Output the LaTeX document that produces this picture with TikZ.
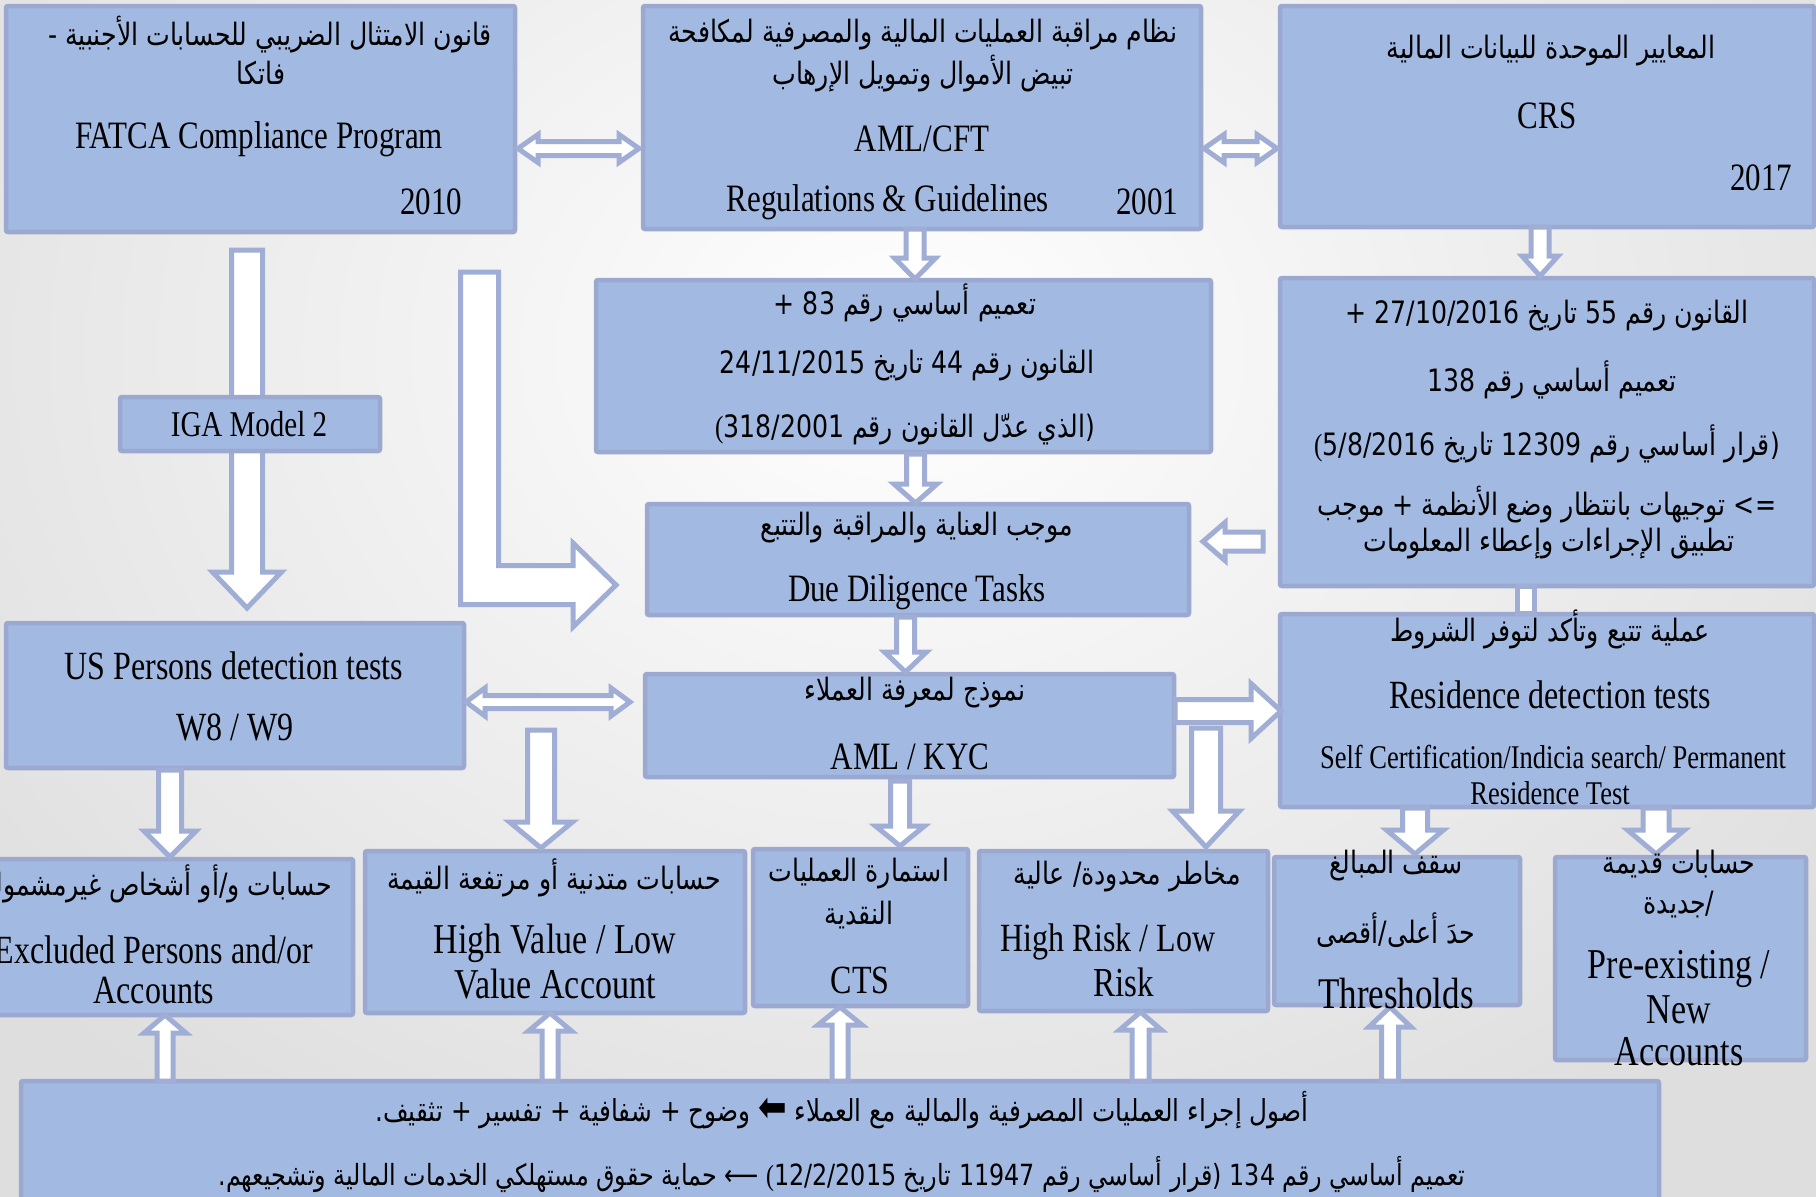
\documentclass[tikz,border=0pt]{standalone}
\usepackage{fontspec}
\usepackage{graphicx}
\setmainfont{Liberation Serif}
\newfontfamily\arabicfont[Script=Arabic]{DejaVu Sans}
\TeXXeTstate=1
\usetikzlibrary{calc,fit}
\definecolor{boxfill}{RGB}{162,185,226}
\definecolor{boxline}{RGB}{155,169,209}
\definecolor{arrline}{RGB}{160,174,213}
\newcommand{\EN}[2]{\scalebox{1}[1.25]{\fontsize{#1}{#1}\selectfont #2}}
\newcommand{\AR}[2]{\scalebox{0.9}[1.1]{\fontsize{#1}{#1}\selectfont\arabicfont\beginR #2\endR}}
\newcommand{\LP}{{\rmfamily(}}
\newcommand{\ArrDown}[5]{\draw[arr] let \p1=(#1), \p2=(#2) in (\x1-#3pt,\y1) -- (\x1-#3pt,\y2+#5pt) -- (\x1-#4pt,\y2+#5pt) -- (\x1,\y2) -- (\x1+#4pt,\y2+#5pt) -- (\x1+#3pt,\y2+#5pt) -- (\x1+#3pt,\y1) -- cycle;}
\newcommand{\ArrUp}[5]{\draw[arr] let \p1=(#1), \p2=(#2) in (\x1-#3pt,\y1) -- (\x1-#3pt,\y2-#5pt) -- (\x1-#4pt,\y2-#5pt) -- (\x1,\y2) -- (\x1+#4pt,\y2-#5pt) -- (\x1+#3pt,\y2-#5pt) -- (\x1+#3pt,\y1) -- cycle;}
\newcommand{\ArrRight}[5]{\draw[arr] let \p1=(#1), \p2=(#2) in (\x1,\y1-#3pt) -- (\x2-#5pt,\y1-#3pt) -- (\x2-#5pt,\y1-#4pt) -- (\x2,\y1) -- (\x2-#5pt,\y1+#4pt) -- (\x2-#5pt,\y1+#3pt) -- (\x1,\y1+#3pt) -- cycle;}
\newcommand{\ArrLeft}[5]{\draw[arr] let \p1=(#1), \p2=(#2) in (\x1,\y1-#3pt) -- (\x2+#5pt,\y1-#3pt) -- (\x2+#5pt,\y1-#4pt) -- (\x2,\y1) -- (\x2+#5pt,\y1+#4pt) -- (\x2+#5pt,\y1+#3pt) -- (\x1,\y1+#3pt) -- cycle;}
\newcommand{\ArrBoth}[5]{\draw[arr] let \p1=(#1), \p2=(#2) in (\x1,\y1) -- (\x1+#5pt,\y1+#4pt) -- (\x1+#5pt,\y1+#3pt) -- (\x2-#5pt,\y1+#3pt) -- (\x2-#5pt,\y1+#4pt) -- (\x2,\y1) -- (\x2-#5pt,\y1-#4pt) -- (\x2-#5pt,\y1-#3pt) -- (\x1+#5pt,\y1-#3pt) -- (\x1+#5pt,\y1-#4pt) -- cycle;}
\begin{document}
\begin{tikzpicture}[x=1pt,y=-1pt,
  box/.style={draw=boxline, fill=boxfill, line width=4.5pt, rounded corners=2pt, inner sep=0pt},
  arr/.style={draw=arrline, fill=white, line width=5pt, line join=miter},
  txt/.style={inner sep=0pt}]
\useasboundingbox (0,0) rectangle (1816,1197);
\clip (0,0) rectangle (1816,1197);
\shade[inner color=white, outer color=black!13] (-300,-600) rectangle (2100,1300);

% arrows lying under boxes
\coordinate (a5s) at (247,250); \coordinate (a5e) at (247,608);
\ArrDown{a5s}{a5e}{15.5}{34.5}{36}
\coordinate (lA) at (479.5,272); \coordinate (lB) at (616,585);
\draw[arr] let \p1=(lA), \p2=(lB) in (\x1-19pt,\y1) -- (\x1-19pt,\y2-19.5pt) -- (\x2-43pt,\y2-19.5pt) -- (\x2-43pt,\y2-42pt) -- (\x2,\y2) -- (\x2-43pt,\y2+42pt) -- (\x2-43pt,\y2+19.5pt) -- (\x1+19pt,\y2+19.5pt) -- (\x1+19pt,\y1) -- cycle;

% boxes
\node[box, fit={(6,6) (515,232)}] (fatca) {};
\node[box, fit={(643,6) (1201,229)}] (amlcft) {};
\node[box, fit={(1280,6) (1814,227)}] (crs) {};
\node[box, fit={(596,280) (1211,452)}] (circ) {};
\node[box, fit={(1280,278) (1814,586)}] (law) {};
\node[box, fit={(120,397) (380,451)}] (iga) {};
\node[box, fit={(647,504) (1189,615)}] (dued) {};
\node[box, fit={(6,623) (464,768)}] (usp) {};
\node[box, fit={(645,674) (1174,777)}] (kyc) {};
\node[box, fit={(1280,614) (1814,807)}] (res) {};
\node[box, fit={(-45,859) (353,1015)}] (excl) {};
\node[box, fit={(365,851) (745,1013)}] (hv) {};
\node[box, fit={(753,849) (968,1006)}] (cts) {};
\node[box, fit={(979,851) (1268,1011)}] (hr) {};
\node[box, fit={(1274,857) (1520,1005)}] (thr) {};
\node[box, fit={(1555,857) (1806,1060)}] (pre) {};
\node[box, fit={(21,1081) (1659,1240)}] (bot) {};

% connectors
\coordinate (d1a) at (518,148.5); \coordinate (d1b) at (639,148.5);
\ArrBoth{d1a}{d1b}{7}{14}{20}
\coordinate (d2a) at (1204,148.5); \coordinate (d2b) at (1277,148.5);
\ArrBoth{d2a}{d2b}{7}{14}{20}
\coordinate (d3a) at (466,702); \coordinate (d3b) at (630,702);
\ArrBoth{d3a}{d3b}{6.5}{14}{19}
\coordinate (a1s) at (915,229); \coordinate (a1e) at (915,279);
\ArrDown{a1s}{a1e}{9}{20.5}{21}
\coordinate (a2s) at (1540,227); \coordinate (a2e) at (1540,276);
\ArrDown{a2s}{a2e}{9}{18}{20}
\coordinate (a3s) at (915.5,454); \coordinate (a3e) at (915.5,503);
\ArrDown{a3s}{a3e}{9}{21.5}{19}
\coordinate (a4s) at (905.5,617); \coordinate (a4e) at (905.5,672);
\ArrDown{a4s}{a4e}{9}{21}{20}
\coordinate (a6s) at (170,770); \coordinate (a6e) at (170,857);
\ArrDown{a6s}{a6e}{11.5}{26}{26}
\coordinate (a7s) at (541,730); \coordinate (a7e) at (541,848);
\ArrDown{a7s}{a7e}{13.5}{31.5}{26}
\coordinate (a8s) at (900,781); \coordinate (a8e) at (900,846);
\ArrDown{a8s}{a8e}{9.5}{24.5}{20}
\coordinate (a9s) at (1206,728); \coordinate (a9e) at (1206,847);
\ArrDown{a9s}{a9e}{14.5}{33.5}{36}
\coordinate (a10s) at (1415,808); \coordinate (a10e) at (1415,854);
\ArrDown{a10s}{a10e}{12.5}{28.5}{24}
\coordinate (a11s) at (1656,808); \coordinate (a11e) at (1656,854);
\ArrDown{a11s}{a11e}{13}{28.5}{24}
\coordinate (u1s) at (165,1081); \coordinate (u1e) at (165,1015);
\ArrUp{u1s}{u1e}{8}{21}{18}
\coordinate (u2s) at (550,1081); \coordinate (u2e) at (550,1013);
\ArrUp{u2s}{u2e}{8}{21.5}{18}
\coordinate (u3s) at (840,1081); \coordinate (u3e) at (840,1007);
\ArrUp{u3s}{u3e}{8}{22}{18}
\coordinate (u4s) at (1140.5,1081); \coordinate (u4e) at (1140.5,1012);
\ArrUp{u4s}{u4e}{8.5}{21}{18}
\coordinate (u5s) at (1390,1081); \coordinate (u5e) at (1390,1007);
\ArrUp{u5s}{u5e}{8.5}{21}{20}
\coordinate (r1s) at (1175,711); \coordinate (r1e) at (1281,711);
\ArrRight{r1s}{r1e}{11.5}{27.5}{30}
\coordinate (l1s) at (1263,541.5); \coordinate (l1e) at (1203,541.5);
\ArrLeft{l1s}{l1e}{9.5}{19}{22}
\coordinate (sA) at (1526,586); \coordinate (sB) at (1526,613);
\draw[arr] let \p1=(sA), \p2=(sB) in (\x1-8.5pt,\y1) rectangle (\x2+8.5pt,\y2);

% texts
\node[txt] (t1) at (270,35) {\AR{28}{قانون الامتثال الضريبي للحسابات الأجنبية -}};
\node[txt] (t2) at (261,73) {\AR{28}{فاتكا}};
\node[txt] (t3) at (259,139) {\EN{31}{FATCA Compliance Program}};
\node[txt] (t4) at (431,202) {\EN{31}{2010}};
\node[txt] (t5) at (923,35) {\AR{28}{نظام مراقبة العمليات المالية والمصرفية لمكافحة}};
\node[txt] (t6) at (923,74) {\AR{28}{تبيض الأموال وتمويل الإرهاب}};
\node[txt] (t7) at (922,139) {\EN{31}{AML/CFT}};
\node[txt] (t8) at (888,202) {\EN{31}{Regulations \& Guidelines}};
\node[txt] (t9) at (1147,202) {\EN{31}{2001}};
\node[txt] (t10) at (1551,51) {\AR{28}{المعايير الموحدة للبيانات المالية}};
\node[txt] (t11) at (1547,116) {\EN{31}{CRS}};
\node[txt] (t12) at (1761,178) {\EN{31}{2017}};
\node[txt] (t13) at (905,303) {\AR{28}{تعميم أساسي رقم 83 +}};
\node[txt] (t14) at (907,366) {\AR{28}{القانون رقم 44 تاريخ 24/11/2015}};
\node[txt] (t15) at (905,429) {\AR{28}{(الذي عدّل القانون رقم \beginL\LP 318/2001\endL}};
\node[txt] (t16) at (1547,316) {\AR{28}{القانون رقم 55 تاريخ 27/10/2016 +}};
\node[txt] (t17) at (1552,380) {\AR{28}{تعميم أساسي رقم 138}};
\node[txt] (t18) at (1547,444) {\AR{28}{(قرار أساسي رقم 12309 تاريخ \beginL\LP 5/8/2016\endL}};
\node[txt] (t19) at (1547,505) {\AR{28}{=> توجيهات بانتظار وضع الأنظمة + موجب}};
\node[txt] (t20) at (1549,544) {\AR{28}{تطبيق الإجراءات وإعطاء المعلومات}};
\node[txt] (t21) at (249,424) {\EN{29}{IGA Model 2}};
\node[txt] (t22) at (917,528) {\AR{28}{موجب العناية والمراقبة والتتبع}};
\node[txt] (t23) at (917,592) {\EN{31}{Due Diligence Tasks}};
\node[txt] (t24) at (234,666) {\EN{32}{US Persons detection tests}};
\node[txt] (t25) at (235,727) {\EN{32}{W8 / W9}};
\node[txt] (t26) at (915,693) {\AR{28}{نموذج لمعرفة العملاء}};
\node[txt] (t27) at (910,757) {\EN{31}{AML / KYC}};
\node[txt] (t28) at (1550,629) {\AR{28}{عملية تتبع وتأكد لتوفر الشروط}};
\node[txt] (t29) at (1550,695) {\EN{32}{Residence detection tests}};
\node[txt] (t30) at (1553,757) {\EN{26.5}{Self Certification/Indicia search/ Permanent}};
\node[txt] (t31) at (1550,793) {\EN{26.5}{Residence Test}};
\node[txt, anchor=east] (t32) at (332,884) {\AR{28}{حسابات و/أو أشخاص غيرمشمولين}};
\node[txt] (t33) at (154,950) {\EN{32}{Excluded Persons and/or}};
\node[txt] (t34) at (154,990) {\EN{32}{Accounts}};
\node[txt] (t35) at (554,878) {\AR{28}{حسابات متدنية أو مرتفعة القيمة}};
\node[txt] (t36) at (555,943) {\EN{34}{High Value / Low}};
\node[txt] (t37) at (555,984) {\EN{34}{Value Account}};
\node[txt] (t38) at (859,874) {\AR{28}{استمارة العمليات}};
\node[txt] (t39) at (859,915) {\AR{28}{النقدية}};
\node[txt] (t40) at (860,980) {\EN{32}{CTS}};
\node[txt] (t41) at (1127,877) {\AR{28}{مخاطر محدودة/ عالية}};
\node[txt] (t42) at (1108,942) {\EN{32}{High Risk / Low}};
\node[txt] (t43) at (1124,982) {\EN{33}{Risk}};
\node[txt] (t44) at (1396,866) {\AR{28}{سقف المبالغ}};
\node[txt] (t45) at (1396,930) {\AR{28}{حدَ أعلى/أقصى}};
\node[txt] (t46) at (1396,994) {\EN{35}{Thresholds}};
\node[txt] (t47) at (1679,864) {\AR{28}{حسابات قديمة}};
\node[txt] (t48) at (1679,905) {\AR{28}{/جديدة}};
\node[txt] (t49) at (1679,969) {\EN{34}{Pre-existing /}};
\node[txt] (t50) at (1679,1010) {\EN{34}{New}};
\node[txt] (t51) at (1679,1052) {\EN{34}{Accounts}};
\node[txt] (t52) at (842,1110) {\AR{27.5}{أصول إجراء العمليات المصرفية والمالية مع العملاء {\fontsize{38}{38}\selectfont ⬅} وضوح + شفافية + تفسير + تثقيف.}};
\node[txt] (t53) at (842,1174) {\AR{26.5}{تعميم أساسي رقم 134 (قرار أساسي رقم 11947 تاريخ \beginL\LP 12/2/2015\endL{} ⟵ حماية حقوق مستهلكي الخدمات المالية وتشجيعهم.}};
\end{tikzpicture}
\end{document}
